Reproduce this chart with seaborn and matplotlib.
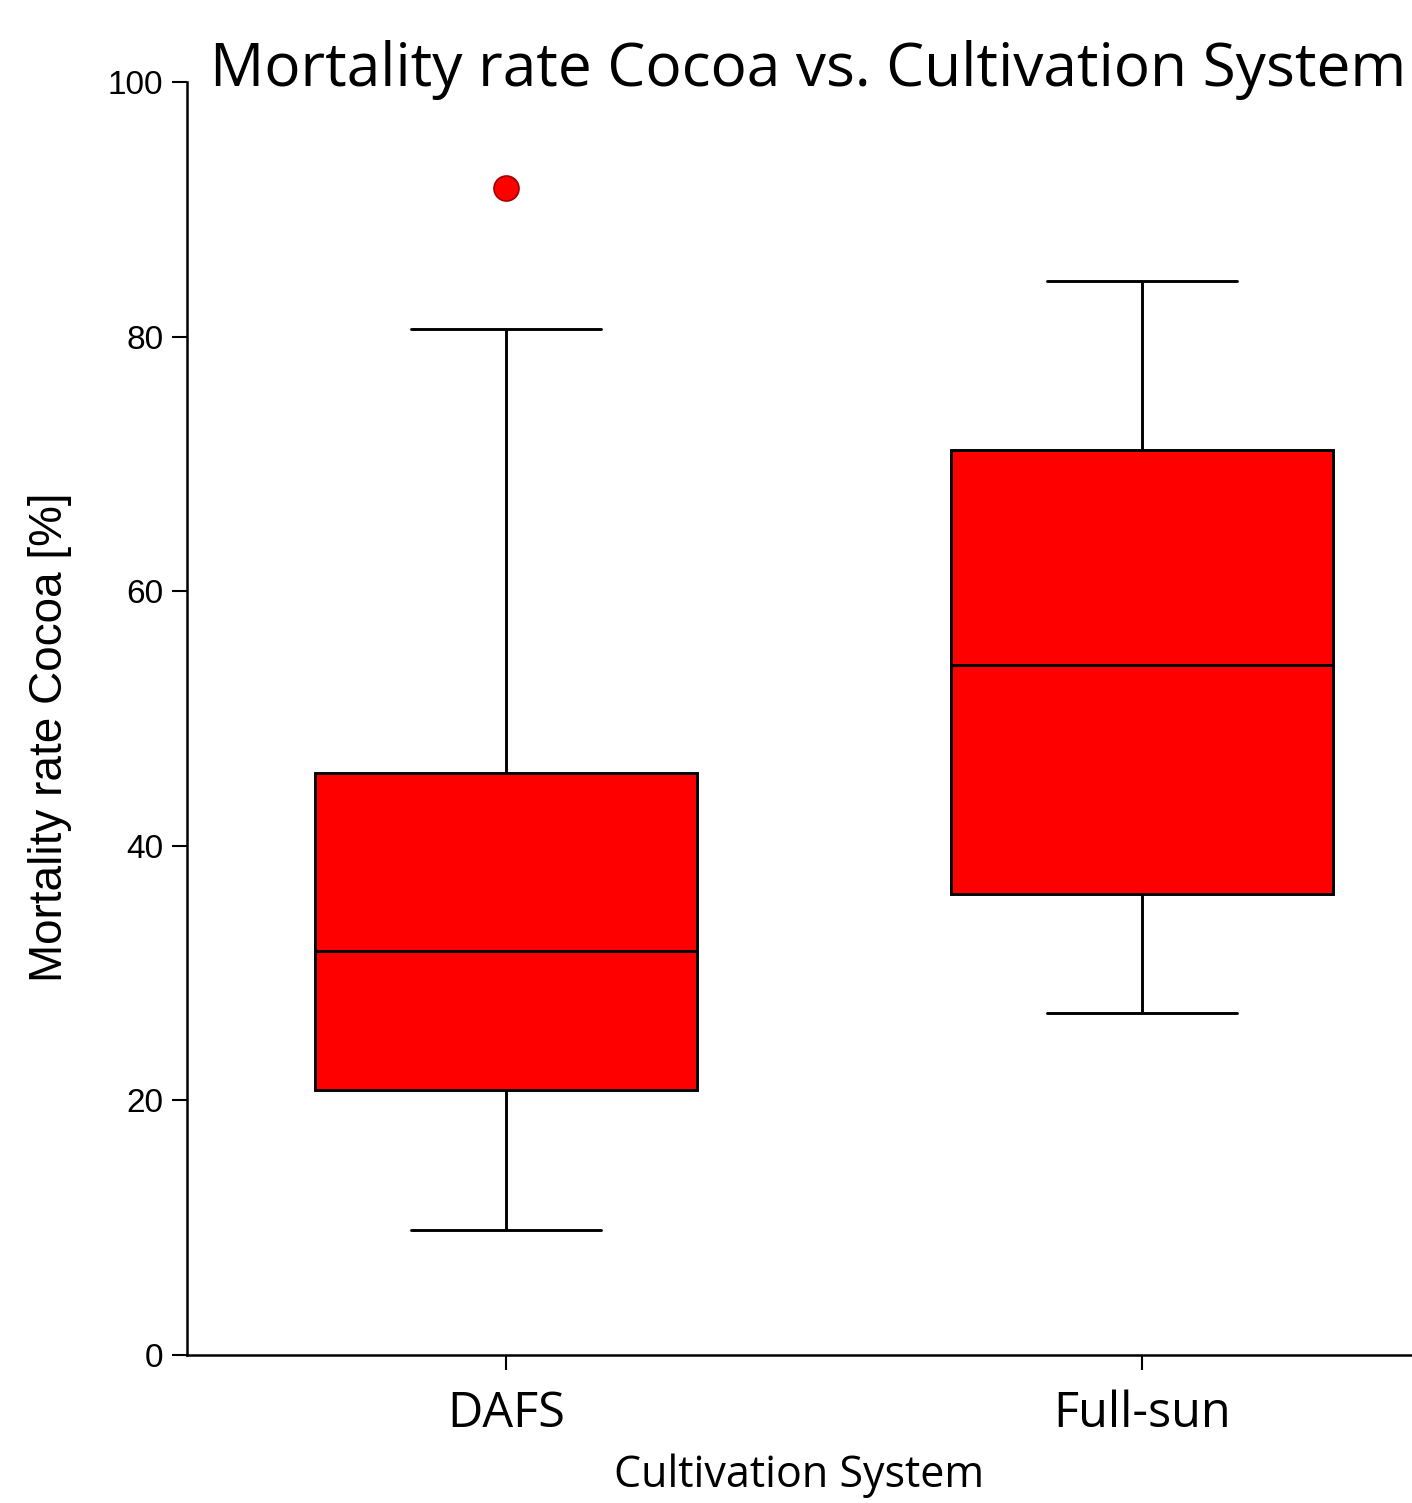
import seaborn as sns
import pandas as pd
import matplotlib
matplotlib.use("Agg")
import matplotlib.pyplot as plt

# box summaries (mortality rate, %)
systems = ["DAFS", "Full-sun"]
whisker_low = [9.8, 26.9]
q1 = [20.8, 36.2]
median = [31.7, 54.2]
q3 = [45.7, 71.1]
whisker_high = [80.6, 84.4]
outliers = [[91.7], []]

# rebuild observations that give exactly these quartiles / whiskers
rows = []
for i, s in enumerate(systems):
    vals = [whisker_low[i], q1[i], q1[i], median[i], median[i],
            q3[i], q3[i], whisker_high[i]] + outliers[i]
    for v in vals:
        rows.append({"Cultivation System": s, "Mortality rate Cocoa [%]": v})
df = pd.DataFrame(rows)

sns.set_style("ticks")
plt.rcParams["font.family"] = ["Liberation Sans", "DejaVu Sans"]
plt.rcParams.update({"text.color": "black", "axes.labelcolor": "black",
                     "xtick.color": "black", "ytick.color": "black",
                     "axes.edgecolor": "black"})

fig = plt.figure(figsize=(14.12, 15.03), dpi=100)
ax = fig.add_axes([0.1324, 0.0985, 0.8676, 0.8469])

sns.boxplot(data=df, x="Cultivation System", y="Mortality rate Cocoa [%]",
            order=systems, color="#ff0000", saturation=1, linecolor="black",
            linewidth=2.1, width=0.6, whis=1.5, ax=ax,
            flierprops=dict(marker="o", markerfacecolor="#ff0000",
                            markeredgecolor="#a00000", markersize=18,
                            markeredgewidth=1.2))

ax.set_ylim(0, 100)
ax.set_xlim(-0.5016, 1.4245)
ax.set_yticks([0, 20, 40, 60, 80, 100])
sns.despine(ax=ax, top=True, right=True)
for sp in ["left", "bottom"]:
    ax.spines[sp].set_linewidth(1.8)
ax.tick_params(axis="both", length=11, width=1.5, direction="out")
ax.tick_params(axis="y", labelsize=24, pad=6)
ax.tick_params(axis="x", pad=14)
for lab in ax.get_xticklabels():
    lab.set_fontfamily("Open Sans")
    lab.set_fontsize(35)

ax.set_ylabel("Mortality rate Cocoa [%]", fontsize=33)
ax.yaxis.set_label_coords(-0.094, 0.485)
ax.set_xlabel("Cultivation System", fontsize=31, fontfamily="Open Sans",
              labelpad=10)

fig.text(0.572, 0.943, "Mortality rate Cocoa vs. Cultivation System",
         ha="center", va="baseline", fontsize=43.5, fontfamily="Open Sans")

fig.savefig("out.png", dpi=100)
